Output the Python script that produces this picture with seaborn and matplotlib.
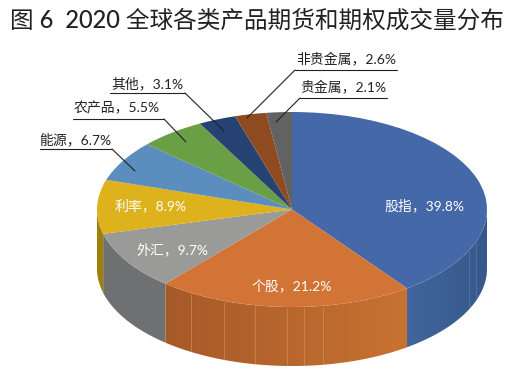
import numpy as np
import matplotlib
matplotlib.use("Agg")
import matplotlib.pyplot as plt
import seaborn as sns
from matplotlib.colors import to_rgb
from matplotlib.patches import Polygon

categories = ["股指", "个股", "外汇", "利率", "能源", "农产品", "其他", "非贵金属", "贵金属"]
shares = [39.8, 21.2, 9.7, 8.9, 6.7, 5.5, 3.1, 2.6, 2.1]
top_colors = ["#4569A8", "#D27435", "#9A9B99", "#DDB21C", "#5B8DBE", "#6AA045", "#264272", "#8E4B20", "#626262"]
wall_left = ["#42659F", "#A65A28", "#6F7072", "#A0800C", "#5B8DBE", "#6AA045", "#264272", "#8E4B20", "#626262"]
wall_right = ["#365889", "#C87232", "#6F7072", "#A0800C", "#5B8DBE", "#6AA045", "#264272", "#8E4B20", "#626262"]
title = "图 6  2020 全球各类产品期货和期权成交量分布"

W, H = 513, 373
CX, CY, RX, RY, DEPTH = 292, 209.5, 195, 97.5, 59

sns.set_theme(style="white")
plt.rcParams["font.family"] = ["Lato", "Noto Sans CJK SC", "DejaVu Sans"]

fig = plt.figure(figsize=(W / 100, H / 100), dpi=100, facecolor="white")
ax = fig.add_axes([0, 0, 1, 1])
wedges, _ = ax.pie(shares, startangle=90, counterclock=False, radius=1,
                   colors=sns.color_palette(top_colors), normalize=True,
                   wedgeprops=dict(linewidth=0, zorder=2))
ax.axis("off")

d = DEPTH / RY


def ux(x):
    return (x - CX) / RX


def uy(y):
    return (CY - y) / RY


# side wall, built from the same shares as the pie
frac = np.array(shares) / sum(shares)
edges = 90 - 360 * np.concatenate([[0], np.cumsum(frac)])
for i in range(len(shares)):
    th = np.radians(np.linspace(edges[i], edges[i + 1], 200))
    th = th[np.sin(th) <= 0]
    if th.size < 2:
        continue
    xs, ys = np.cos(th), np.sin(th)
    outline = np.column_stack([np.r_[xs, xs[::-1]], np.r_[ys, ys[::-1] - d]])
    lo_c, hi_c = np.array(to_rgb(wall_left[i])), np.array(to_rgb(wall_right[i]))
    ramp = np.linspace(0, 1, 64)[None, :, None]
    grad = lo_c[None, None, :] + (hi_c - lo_c)[None, None, :] * ramp
    img = ax.imshow(grad, extent=(xs.min(), xs.max(), ys.min() - d, ys.max()),
                    origin="lower", aspect="auto", zorder=0.5, interpolation="bilinear")
    patch = Polygon(outline, closed=True, transform=ax.transData, facecolor="none", edgecolor="none")
    ax.add_patch(patch)
    img.set_clip_path(patch)

ax.set_aspect("auto")
ax.set_xlim(-CX / RX, (W - CX) / RX)
ax.set_ylim(-(H - CY) / RY, CY / RY)

# faint seams on the wall
for sx in [191, 224, 255, 287, 304, 323, 469, 476]:
    u = ux(sx)
    yt = -np.sqrt(1 - u * u)
    ax.plot([u, u], [yt - 0.01, yt - d + 0.01], color="#E0A070" if sx < 400 else "#6F8BB5",
            lw=0.6, alpha=0.55, zorder=0.8)

# in-slice labels
inside = {0: (424, 205), 1: (292, 286), 2: (172, 249), 3: (151, 205)}
for i, (x, y) in inside.items():
    ax.text(ux(x), uy(y), f"{categories[i]}，{shares[i]}%", color="white", fontsize=10,
            ha="center", va="center", zorder=5)

# outside labels and leader lines: text x, text y, rule x0, rule x1, rule y, end x, end y, joint x
outside = {
    4: (75, 139, 40, 112, 149, 135, 171, 112),
    5: (117, 108, 73, 164, 119, 186, 142, 164),
    6: (147, 83, 110, 185, 93, 224, 131, 185),
    7: (346, 59, 295, 397, 70, 247, 118, 295),
    8: (343, 87, 300, 387, 98, 276, 122, 300),
}
for i, (tx, ty, x0, x1, yl, ex, ey, jx) in outside.items():
    ax.text(ux(tx), uy(ty), f"{categories[i]}，{shares[i]}%", color="#222222", fontsize=10,
            ha="center", va="center", zorder=5)
    ax.plot([ux(x0), ux(x1)], [uy(yl), uy(yl)], color="#222222", lw=0.8, zorder=5)
    ax.plot([ux(jx), ux(ex)], [uy(yl), uy(ey)], color="#222222", lw=0.8, zorder=5)

fig.text(10 / W, 1 - 20 / H, title, fontsize=17, color="#222222", ha="left", va="center",
         fontweight="medium")
fig.savefig("out.png", dpi=100, facecolor="white")
